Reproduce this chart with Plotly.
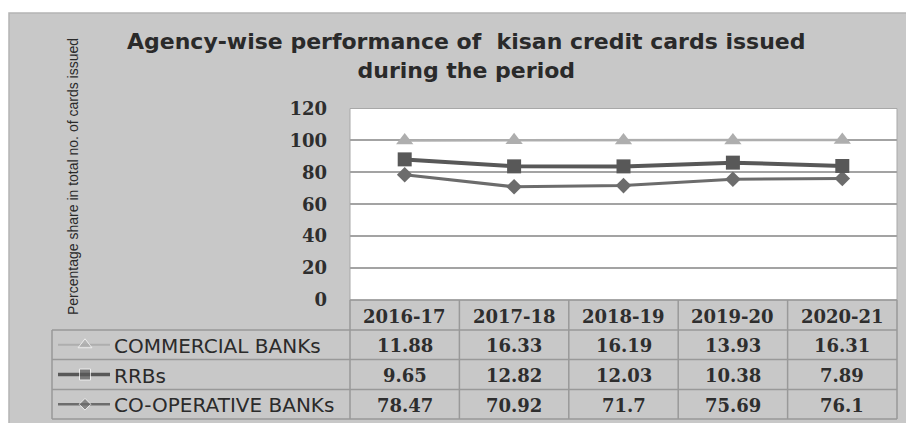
import plotly.graph_objects as go
import numpy as np

W, H = 914, 423
OFF = 8  # page body margin offset

years = ["2016-17", "2017-18", "2018-19", "2019-20", "2020-21"]
commercial = [11.88, 16.33, 16.19, 13.93, 16.31]
rrbs = [9.65, 12.82, 12.03, 10.38, 7.89]
coop = [78.47, 70.92, 71.7, 75.69, 76.1]
series_names = ["COMMERCIAL BANKs", "RRBs", "CO-OPERATIVE BANKs"]
y_ticks = [0, 20, 40, 60, 80, 100, 120]

title_text = "Agency-wise performance of  kisan credit cards issued<br>during the period"
ytitle_text = "Percentage share in total no. of cards issued"

# stacked (cumulative) values as in the original stacked line chart
cum_coop = np.array(coop)
cum_rrb = cum_coop + np.array(rrbs)
cum_comm = cum_rrb + np.array(commercial)


def px(x):
    return (x - OFF) / W


def py(y):
    return 1 - (y - OFF) / H


PL, PR, PT, PB = 350, 897, 108.5, 300

col_comm = "#aeaeae"
col_rrb = "#585858"
col_coop = "#6c6c6c"

fig = go.Figure()

styles = [
    (series_names[0], cum_comm, col_comm, "triangle-up", 15, 2.5),
    (series_names[1], cum_rrb, col_rrb, "square", 14, 4),
    (series_names[2], cum_coop, col_coop, "diamond", 12, 3),
]
for name, vals, c, sym, ms, lw in reversed(styles):
    fig.add_trace(go.Scatter(x=years, y=vals, mode="lines+markers", name=name,
                             line=dict(color=c, width=lw),
                             marker=dict(symbol=sym, size=ms, color=c),
                             xaxis="x", yaxis="y", showlegend=False, cliponaxis=False))

shapes = []
# outer gray frame (extends past the right and bottom edges)
shapes.append(dict(type="rect", xref="paper", yref="paper", x0=px(9), x1=px(1000), y0=py(520), y1=py(13),
                   fillcolor="#c8c8c8", line=dict(color="#b4b4b4", width=1.5), layer="below"))
# plot area
shapes.append(dict(type="rect", xref="paper", yref="paper", x0=px(PL), x1=px(PR), y0=py(PB), y1=py(PT),
                   fillcolor="#ffffff", line=dict(color="#a8a8a8", width=1), layer="below"))

# table geometry
col_edges = [350, 459.4, 568.8, 678.2, 787.6, 897]
row_edges = [300, 330, 359.5, 389.5, 419]
tline = dict(color="#999999", width=1.5)
for xe in col_edges:
    shapes.append(dict(type="line", xref="paper", yref="paper", x0=px(xe), x1=px(xe),
                       y0=py(row_edges[0]), y1=py(row_edges[-1]), line=tline))
shapes.append(dict(type="line", xref="paper", yref="paper", x0=px(52), x1=px(52),
                   y0=py(row_edges[1]), y1=py(row_edges[-1]), line=tline))
shapes.append(dict(type="line", xref="paper", yref="paper", x0=px(350), x1=px(897),
                   y0=py(row_edges[0]), y1=py(row_edges[0]), line=tline))
for ye in row_edges[1:]:
    shapes.append(dict(type="line", xref="paper", yref="paper", x0=px(52), x1=px(897),
                       y0=py(ye), y1=py(ye), line=tline))

annotations = []
num_font = dict(family="DejaVu Serif", size=18, color="#2e2e2e")
for i, yr in enumerate(years):
    annotations.append(dict(x=yr, xref="x", y=py((row_edges[0] + row_edges[1]) / 2 + 1), yref="paper",
                            xanchor="center", yanchor="middle",
                            text="<b>%s</b>" % yr, showarrow=False, font=num_font))
table_vals = [commercial, rrbs, coop]
for r, vals in enumerate(table_vals):
    yc = py((row_edges[r + 1] + row_edges[r + 2]) / 2 + 1)
    for i, v in enumerate(vals):
        annotations.append(dict(x=years[i], xref="x", y=yc, yref="paper",
                                xanchor="center", yanchor="middle",
                                text="<b>%s</b>" % v, showarrow=False, font=num_font))
    annotations.append(dict(x=px(112), xref="paper", y=yc, yref="paper", xanchor="left", yanchor="middle",
                            text=series_names[r], showarrow=False,
                            font=dict(family="DejaVu Sans", size=20, color="#2b2b2b")))

# legend keys in table, drawn on a pixel overlay axis
for r, (name, vals, c, sym, ms, lw) in enumerate(styles):
    yc = (row_edges[r + 1] + row_edges[r + 2]) / 2
    fig.add_trace(go.Scatter(x=[58, 85, 110], y=[yc, yc, yc], mode="lines+markers",
                             line=dict(color=c, width=lw - 0.5),
                             marker=dict(symbol=sym, size=[0, ms - 3, 0], color=c),
                             xaxis="x2", yaxis="y2", showlegend=False, hoverinfo="skip"))

annotations.append(dict(x=px(467), xref="paper", y=py(56), yref="paper", xanchor="center", yanchor="middle",
                        text="<b>" + title_text + "</b>", showarrow=False,
                        font=dict(family="DejaVu Sans", size=22, color="#2a2a2a")))
annotations.append(dict(x=px(73), xref="paper", y=py(177), yref="paper", xanchor="center", yanchor="middle",
                        text=ytitle_text, textangle=-90, showarrow=False,
                        font=dict(family="Liberation Sans", size=14, color="#2a2a2a")))

fig.update_layout(
    width=W, height=H,
    margin=dict(l=0, r=0, t=0, b=0, pad=0, autoexpand=False),
    paper_bgcolor="#ffffff",
    plot_bgcolor="rgba(0,0,0,0)",
    shapes=shapes,
    annotations=annotations,
    xaxis=dict(domain=[px(PL), px(PR)], type="category", range=[-0.5, 4.5], showticklabels=False,
               showgrid=False, zeroline=False, showline=False, ticks="", fixedrange=True),
    yaxis=dict(domain=[py(PB), py(PT)], range=[0, 120], tickvals=y_ticks,
               ticktext=["<b>%d</b>" % t for t in y_ticks],
               tickfont=dict(family="DejaVu Serif", size=18, color="#2e2e2e"),
               showgrid=True, gridcolor="#a3a3a3", gridwidth=2, zeroline=False, showline=False,
               ticks="", ticklabelstandoff=22, fixedrange=True),
    xaxis2=dict(domain=[0, 1], range=[OFF, W + OFF], visible=False, anchor="y2", fixedrange=True),
    yaxis2=dict(domain=[0, 1], range=[H + OFF, OFF], visible=False, anchor="x2", fixedrange=True),
    showlegend=False,
)

fig.write_html("out.html")
